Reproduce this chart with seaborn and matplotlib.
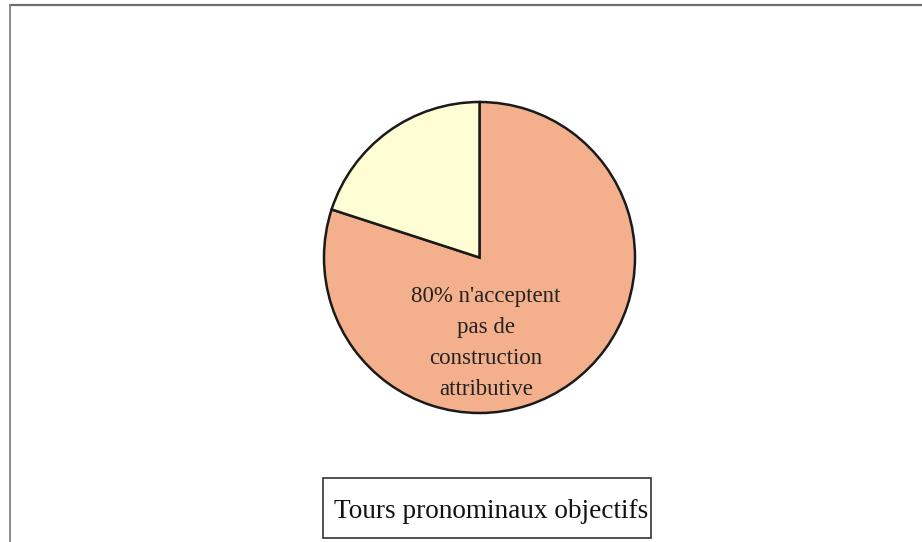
import matplotlib
matplotlib.use("Agg")
import matplotlib.pyplot as plt
import seaborn as sns
from matplotlib.lines import Line2D
from matplotlib.patches import Rectangle

sns.set_theme(style="white")
plt.rcParams["font.family"] = ["Liberation Serif", "DejaVu Serif"]

# Share of pronominal turns by acceptance of an attributive construction
categories = ["n'acceptent pas de construction attributive", "acceptent une construction attributive"]
shares = [80, 20]
colors = ["#F4B08C", "#FEFDD3"]
title = "Tours pronominaux objectifs"

W, H = 922, 542
fig = plt.figure(figsize=(W / 100, H / 100), dpi=100)
fig.patch.set_facecolor("white")
ax = fig.add_axes([0, 0, 1, 1])

ax.pie(shares, colors=colors, startangle=90, counterclock=False,
       center=(479.5, H - 257.5), radius=155.5,
       wedgeprops=dict(edgecolor="#1a1a1a", linewidth=1.8))
ax.set_xlim(0, W)
ax.set_ylim(0, H)
ax.set_aspect("equal")
ax.axis("off")

label = f"{shares[0]}% n'acceptent\npas de\nconstruction\nattributive"
ax.text(486, H - 343, label, ha="center", va="center", fontsize=16.5,
        color="#222222", linespacing=1.64)

# legend-style title box
ax.add_patch(Rectangle((323, H - 538), 328, 60, facecolor="white",
                       edgecolor="#333333", linewidth=1.2, zorder=3))
ax.text(491.5, H - 511, title, ha="center", va="center", fontsize=19.6,
        color="#111111", zorder=4)

# outer frame (top and left edges)
fig.add_artist(Line2D([10 / W, 1], [1 - 5 / H, 1 - 5 / H], color="#6e6e6e", linewidth=1.6))
fig.add_artist(Line2D([10 / W, 10 / W], [0, 1 - 5 / H], color="#8a8a8a", linewidth=1.4))

fig.savefig("out.png", dpi=100)
